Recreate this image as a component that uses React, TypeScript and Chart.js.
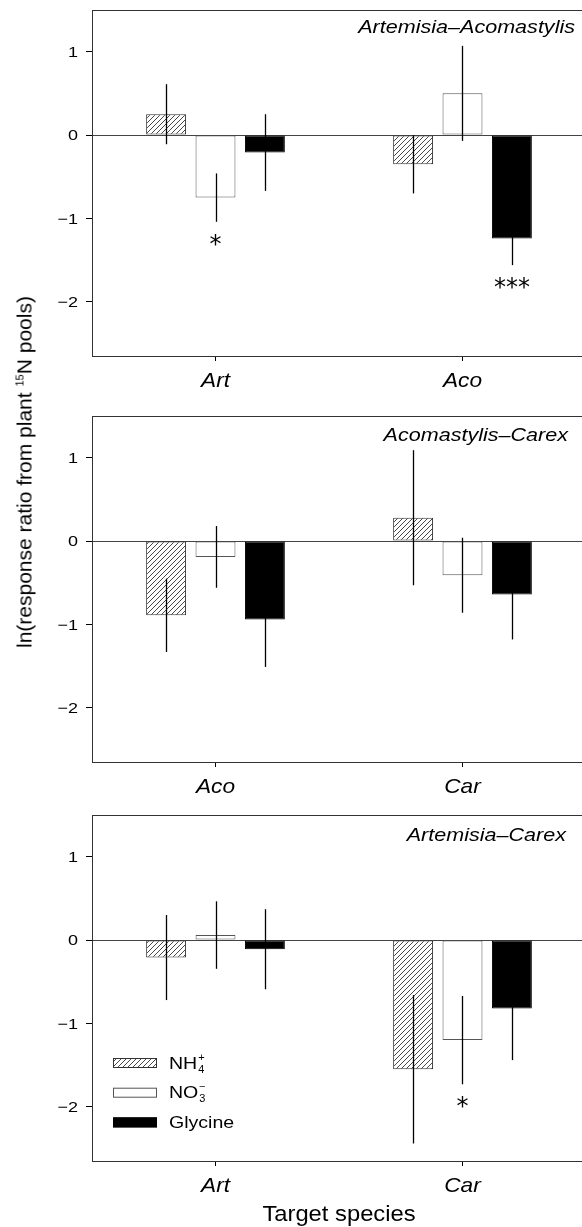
import React, { useEffect, useRef } from 'react';
import { Chart, registerables } from 'chart.js';

Chart.register(...registerables);

const FONT = '"Liberation Sans", Arial, Helvetica, sans-serif';
Chart.defaults.font.family = FONT;
Chart.defaults.color = '#000';

// ---------- data ----------
const seriesNames = ['NH4+', 'NO3-', 'Glycine'];
const legendBase = ['NH', 'NO', 'Glycine'];
const legendSub = ['4', '3', ''];
const legendSup = ['+', '\u2212', ''];

const yTickValues = [-2, -1, 0, 1];
const yMin = -2.65;
const yMax = 1.5;

// Panel 1: Artemisia–Acomastylis
const p1Title = 'Artemisia\u2013Acomastylis';
const p1Categories = ['Art', 'Aco'];
const p1NH4 = [0.25, -0.35];
const p1NH4Err = [0.36, 0.35];
const p1NO3 = [-0.75, 0.5];
const p1NO3Err = [0.29, 0.57];
const p1Gly = [-0.21, -1.24];
const p1GlyErr = [0.46, 0.32];
const p1NH4Sig = ['', ''];
const p1NO3Sig = ['*', ''];
const p1GlySig = ['', '***'];

// Panel 2: Acomastylis–Carex
const p2Title = 'Acomastylis\u2013Carex';
const p2Categories = ['Aco', 'Car'];
const p2NH4 = [-0.89, 0.28];
const p2NH4Err = [0.44, 0.81];
const p2NO3 = [-0.19, -0.41];
const p2NO3Err = [0.37, 0.45];
const p2Gly = [-0.94, -0.64];
const p2GlyErr = [0.57, 0.54];
const p2NH4Sig = ['', ''];
const p2NO3Sig = ['', ''];
const p2GlySig = ['', ''];

// Panel 3: Artemisia–Carex
const p3Title = 'Artemisia\u2013Carex';
const p3Categories = ['Art', 'Car'];
const p3NH4 = [-0.21, -1.55];
const p3NH4Err = [0.51, 0.89];
const p3NO3 = [0.06, -1.2];
const p3NO3Err = [0.405, 0.53];
const p3Gly = [-0.11, -0.82];
const p3GlyErr = [0.48, 0.62];
const p3NH4Sig = ['', ''];
const p3NO3Sig = ['', '*'];
const p3GlySig = ['', ''];

const xAxisTitle = 'Target species';

// ---------- helpers ----------
function makeHatch(): CanvasPattern | string {
  const s = 5;
  const c = document.createElement('canvas');
  c.width = s;
  c.height = s;
  const g = c.getContext('2d');
  if (!g) return '#fff';
  g.fillStyle = '#fff';
  g.fillRect(0, 0, s, s);
  g.strokeStyle = '#333';
  g.lineWidth = 0.9;
  g.beginPath();
  g.moveTo(0, s);
  g.lineTo(s, 0);
  g.moveTo(-1, 1);
  g.lineTo(1, -1);
  g.moveTo(s - 1, s + 1);
  g.lineTo(s + 1, s - 1);
  g.stroke();
  return g.createPattern(c, 'repeat') || '#fff';
}

function drawText(ctx: CanvasRenderingContext2D, text: string, x: number, y: number, font: string, align: CanvasTextAlign, sx: number) {
  ctx.save();
  ctx.font = font;
  ctx.textAlign = align;
  ctx.textBaseline = 'alphabetic';
  ctx.fillStyle = '#000';
  ctx.translate(x, y);
  ctx.scale(sx, 1);
  ctx.fillText(text, 0, 0);
  ctx.restore();
}

function textWidth(ctx: CanvasRenderingContext2D, text: string, font: string, sx: number) {
  ctx.save();
  ctx.font = font;
  const w = ctx.measureText(text).width * sx;
  ctx.restore();
  return w;
}

const formatTick = (v: number) => (v < 0 ? '\u2212' + Math.abs(v) : String(v));

type PanelSpec = {
  title: string;
  categories: string[];
  values: number[][];
  errors: number[][];
  sigs: string[][];
  titleRight: number;
  titleBaseline: number;
  canvasTop: number;
  canvasHeight: number;
  xAxisHeight: number;
  showLegend: boolean;
  showXTitle: boolean;
};

const decorPlugin = {
  id: 'decor',
  afterDatasetsDraw(chart: any) {
    const { ctx, chartArea, scales } = chart;
    const spec: PanelSpec = chart.options.plugins.decor.spec;
    const hatch = chart.options.plugins.decor.hatch;
    const y = scales.y;
    const x = scales.x;
    ctx.save();
    // error bars & significance
    chart.data.datasets.forEach((ds: any, di: number) => {
      const meta = chart.getDatasetMeta(di);
      meta.data.forEach((bar: any, i: number) => {
        const v = ds.data[i];
        const e = ds.errors[i];
        const bx = Math.round(bar.x) + 0.5;
        const top = y.getPixelForValue(v + e);
        const bot = y.getPixelForValue(v - e);
        ctx.strokeStyle = '#000';
        ctx.lineWidth = 1.3;
        ctx.beginPath();
        ctx.moveTo(bx, top);
        ctx.lineTo(bx, bot);
        ctx.stroke();
        const s = ds.sig[i];
        if (s) {
          ctx.font = '24px "DejaVu Sans"';
          ctx.textAlign = 'center';
          ctx.textBaseline = 'alphabetic';
          ctx.fillStyle = '#000';
          ctx.fillText(s, bar.x, bot + 17 + 13);
        }
      });
    });
    // top + right frame lines
    ctx.strokeStyle = '#333';
    ctx.lineWidth = 1;
    ctx.beginPath();
    ctx.moveTo(chartArea.left, Math.round(chartArea.top) + 0.5);
    ctx.lineTo(chartArea.right, Math.round(chartArea.top) + 0.5);
    ctx.moveTo(Math.round(chartArea.right) + 0.5, chartArea.top);
    ctx.lineTo(Math.round(chartArea.right) + 0.5, chartArea.bottom);
    ctx.stroke();

    // y tick labels (from the scale's ticks)
    y.ticks.forEach((t: any, i: number) => {
      const py = y.getPixelForTick(i);
      drawText(ctx, formatTick(t.value), chartArea.left - 14, py + 5.4, `15px ${FONT}`, 'right', 1.2);
    });
    // x category labels
    x.ticks.forEach((t: any, i: number) => {
      const px = x.getPixelForTick(i);
      const label = chart.data.labels[t.value] ?? chart.data.labels[i];
      drawText(ctx, String(label), px, chartArea.bottom + 30.7, `italic 21px ${FONT}`, 'center', 1.08);
    });
    if (spec.showXTitle) {
      drawText(ctx, xAxisTitle, (chartArea.left + chartArea.right) / 2, chartArea.bottom + 60, `22px ${FONT}`, 'center', 1.08);
    }

    // panel title
    drawText(ctx, spec.title, spec.titleRight, chartArea.top + spec.titleBaseline, `italic 18.5px ${FONT}`, 'right', 1.165);

    // legend
    if (spec.showLegend) {
      const lx = chartArea.left + 21;
      const ly = chartArea.top + 243;
      const fills = [hatch, '#fff', '#000'];
      const strokes = ['#333', '#555', '#000'];
      legendBase.forEach((base, i) => {
        const sy = ly + i * 29.7;
        ctx.fillStyle = fills[i];
        ctx.fillRect(lx, sy, 44, 10);
        ctx.strokeStyle = strokes[i];
        ctx.lineWidth = 1;
        ctx.strokeRect(lx + 0.5, sy + 0.5, 43, 9);
        const tx = lx + 56;
        const by = sy + 10.5;
        const f = `17px ${FONT}`;
        drawText(ctx, base, tx, by, f, 'left', 1.15);
        const w = textWidth(ctx, base, f, 1.15);
        if (legendSub[i]) drawText(ctx, legendSub[i], tx + w + 1, by + 4, `10px ${FONT}`, 'left', 1.1);
        if (legendSup[i]) drawText(ctx, legendSup[i], tx + w + 1, by - 8, `10px ${FONT}`, 'left', 1.1);
      });
    }
    ctx.restore();
  },
};

function buildConfig(spec: PanelSpec, hatch: any): any {
  const fills = [hatch, '#fff', '#000'];
  const borders = ['#333', '#555', '#000'];
  return {
    type: 'bar',
    data: {
      labels: spec.categories,
      datasets: seriesNames.map((name, k) => ({
        label: name,
        data: spec.values[k],
        errors: spec.errors[k],
        sig: spec.sigs[k],
        backgroundColor: fills[k],
        borderColor: borders[k],
        borderWidth: 1,
        borderSkipped: false,
        categoryPercentage: 0.6,
        barPercentage: 0.808,
      })),
    },
    options: {
      responsive: false,
      animation: false,
      events: [],
      layout: { padding: { top: 10, right: 14, left: 0, bottom: 0 } },
      plugins: {
        legend: { display: false },
        tooltip: { enabled: false },
        decor: { spec, hatch },
      },
      scales: {
        x: {
          type: 'category',
          offset: true,
          grid: { offset: false, drawOnChartArea: false, tickLength: 5, tickColor: '#000', color: '#000' },
          border: { display: true, color: '#333', width: 1 },
          ticks: { display: false },
          title: { display: false },
          afterFit: (s: any) => {
            s.height = spec.xAxisHeight;
            s.paddingLeft = 0;
            s.paddingRight = 0;
          },
        },
        y: {
          min: yMin,
          max: yMax,
          afterBuildTicks: (s: any) => {
            s.ticks = yTickValues.map((v) => ({ value: v }));
          },
          ticks: { display: false },
          grid: {
            color: (c: any) => (c.tick && c.tick.value === 0 ? '#444' : 'rgba(0,0,0,0)'),
            tickColor: '#000',
            tickLength: 6,
            drawOnChartArea: true,
          },
          border: { display: true, color: '#333', width: 1 },
          afterFit: (s: any) => {
            s.width = 92;
            s.paddingTop = 0;
            s.paddingBottom = 0;
          },
        },
      },
    },
    plugins: [decorPlugin],
  };
}

const panels: PanelSpec[] = [
  {
    title: p1Title,
    categories: p1Categories,
    values: [p1NH4, p1NO3, p1Gly],
    errors: [p1NH4Err, p1NO3Err, p1GlyErr],
    sigs: [p1NH4Sig, p1NO3Sig, p1GlySig],
    titleRight: 575,
    titleBaseline: 23,
    canvasTop: 0,
    canvasHeight: 400,
    xAxisHeight: 44,
    showLegend: false,
    showXTitle: false,
  },
  {
    title: p2Title,
    categories: p2Categories,
    values: [p2NH4, p2NO3, p2Gly],
    errors: [p2NH4Err, p2NO3Err, p2GlyErr],
    sigs: [p2NH4Sig, p2NO3Sig, p2GlySig],
    titleRight: 568,
    titleBaseline: 25,
    canvasTop: 406,
    canvasHeight: 400,
    xAxisHeight: 44,
    showLegend: false,
    showXTitle: false,
  },
  {
    title: p3Title,
    categories: p3Categories,
    values: [p3NH4, p3NO3, p3Gly],
    errors: [p3NH4Err, p3NO3Err, p3GlyErr],
    sigs: [p3NH4Sig, p3NO3Sig, p3GlySig],
    titleRight: 566,
    titleBaseline: 25.5,
    canvasTop: 805,
    canvasHeight: 422,
    xAxisHeight: 66,
    showLegend: true,
    showXTitle: true,
  },
];

function Panel({ spec }: { spec: PanelSpec }) {
  const ref = useRef<HTMLCanvasElement>(null);
  useEffect(() => {
    if (!ref.current) return;
    const chart = new Chart(ref.current, buildConfig(spec, makeHatch()));
    return () => chart.destroy();
  }, [spec]);
  return (
    <canvas
      ref={ref}
      width={600}
      height={spec.canvasHeight}
      style={{ position: 'absolute', left: 0, top: spec.canvasTop, width: 600, height: spec.canvasHeight }}
    />
  );
}

export default function App() {
  return (
    <div
      style={{
        position: 'fixed',
        left: 0,
        top: 0,
        width: 582,
        height: 1227,
        overflow: 'hidden',
        background: '#fff',
      }}
    >
      {panels.map((p, i) => (
        <Panel key={i} spec={p} />
      ))}
      <div
        style={{
          position: 'absolute',
          left: 26,
          top: 472,
          transform: 'translate(-50%, -50%) rotate(-90deg)',
          whiteSpace: 'nowrap',
          font: `21px ${FONT}`,
          color: '#000',
          lineHeight: '24px',
        }}
      >
        ln(response ratio from plant{' '}
        <span style={{ fontSize: 11, position: 'relative', top: -8 }}>15</span>N pools)
      </div>
    </div>
  );
}
